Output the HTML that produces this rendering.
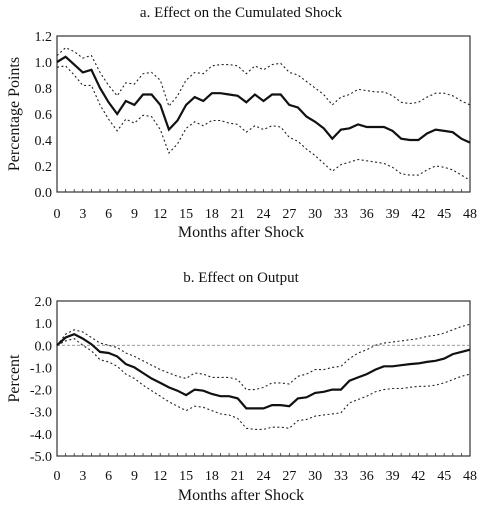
<!DOCTYPE html>
<html><head><meta charset="utf-8"><style>
body{margin:0;background:#fff;width:482px;height:516px;overflow:hidden}
svg text{font-family:"Liberation Serif",serif;fill:#111}
</style></head><body>
<svg id="c" width="482" height="516"></svg>
<script>
const months=[];for(let i=0;i<=48;i++)months.push(i);
const xTicks=[0,3,6,9,12,15,18,21,24,27,30,33,36,39,42,45,48];
const aTicks=[0.0,0.2,0.4,0.6,0.8,1.0,1.2];
const aMid=[1.00,1.04,0.98,0.92,0.94,0.80,0.69,0.60,0.70,0.67,0.75,0.75,0.67,0.48,0.55,0.67,0.73,0.70,0.76,0.76,0.75,0.74,0.69,0.75,0.70,0.75,0.75,0.67,0.65,0.58,0.54,0.49,0.41,0.48,0.49,0.52,0.50,0.50,0.50,0.47,0.41,0.40,0.40,0.45,0.48,0.47,0.46,0.41,0.38];
const aUp=[1.05,1.11,1.08,1.03,1.05,0.92,0.82,0.74,0.84,0.83,0.91,0.92,0.86,0.66,0.74,0.86,0.92,0.91,0.97,0.98,0.98,0.97,0.91,0.97,0.94,0.98,0.99,0.92,0.90,0.85,0.80,0.75,0.67,0.73,0.75,0.79,0.78,0.77,0.77,0.74,0.69,0.68,0.69,0.73,0.76,0.76,0.74,0.70,0.67];
const aLo=[0.96,0.97,0.90,0.82,0.82,0.67,0.56,0.47,0.56,0.53,0.59,0.58,0.48,0.30,0.37,0.49,0.54,0.51,0.55,0.55,0.53,0.52,0.46,0.51,0.48,0.51,0.50,0.42,0.39,0.33,0.28,0.22,0.16,0.21,0.23,0.25,0.24,0.23,0.22,0.19,0.14,0.13,0.13,0.17,0.20,0.19,0.17,0.13,0.09];
const bTicks=[-5,-4,-3,-2,-1,0,1,2];
const bMid=[0,0.35,0.5,0.3,0.05,-0.3,-0.35,-0.5,-0.85,-1.0,-1.25,-1.5,-1.7,-1.9,-2.05,-2.25,-2.0,-2.05,-2.2,-2.3,-2.3,-2.4,-2.85,-2.85,-2.85,-2.7,-2.7,-2.75,-2.4,-2.35,-2.15,-2.1,-2.0,-2.0,-1.6,-1.45,-1.3,-1.1,-0.95,-0.95,-0.9,-0.85,-0.82,-0.75,-0.7,-0.6,-0.4,-0.3,-0.2];
const bUp=[0,0.5,0.7,0.6,0.35,0.1,0.0,-0.1,-0.35,-0.5,-0.7,-0.9,-1.1,-1.25,-1.4,-1.5,-1.25,-1.3,-1.45,-1.45,-1.45,-1.55,-2.0,-2.0,-1.9,-1.7,-1.7,-1.75,-1.4,-1.3,-1.1,-1.1,-1.0,-0.95,-0.6,-0.35,-0.2,0.0,0.1,0.15,0.2,0.25,0.3,0.4,0.45,0.55,0.7,0.85,0.95];
const bLo=[0,0.2,0.3,0.0,-0.25,-0.65,-0.75,-0.95,-1.3,-1.5,-1.8,-2.05,-2.3,-2.55,-2.75,-2.95,-2.75,-2.8,-2.95,-3.1,-3.15,-3.3,-3.75,-3.8,-3.8,-3.7,-3.7,-3.75,-3.4,-3.35,-3.2,-3.15,-3.1,-3.05,-2.6,-2.45,-2.3,-2.1,-2.0,-1.95,-1.95,-1.9,-1.85,-1.85,-1.8,-1.7,-1.55,-1.4,-1.3];

const svg=document.getElementById('c');const NS='http://www.w3.org/2000/svg';
function mk(t,a,txt){const e=document.createElementNS(NS,t);for(const k in a)e.setAttribute(k,a[k]);if(txt!==undefined)e.textContent=txt;svg.appendChild(e);return e;}
function panel(p){
  const X0=57,X1=470;
  const x=m=>X0+(m-0)/48*(X1-X0);
  const y=v=>p.bot-(v-p.min)/(p.max-p.min)*(p.bot-p.top);
  let e=mk('rect',{x:X0,y:p.top,width:X1-X0,height:p.bot-p.top,fill:'none',stroke:'#333','stroke-width':1.2});
  
  
  e=mk('text',{x:241,y:p.titleY,'text-anchor':'middle','font-size':15},p.title);
  
  
  p.ticks.forEach(t=>{
    e=mk('text',{x:X0-5,y:y(t)+5,'text-anchor':'end','font-size':14},t.toFixed(1));
    
    
  });
  months.forEach(m=>{mk('line',{x1:x(m),x2:x(m),y1:p.bot,y2:p.bot-3,stroke:'#333','stroke-width':0.8});});
  xTicks.forEach(t=>{
    e=mk('text',{x:x(t),y:p.tickY,'text-anchor':'middle','font-size':14},String(t));
    
    
  });
  e=mk('text',{x:241,y:p.xtY,'text-anchor':'middle','font-size':16},'Months after Shock');
  
  
  const cy=(p.top+p.bot)/2;
  e=mk('text',{x:19,y:cy,'text-anchor':'middle','font-size':16,transform:`rotate(-90 19 ${cy})`},p.ylab);
  
  
  if(p.zero){e=mk('line',{x1:X0,x2:X1,y1:y(0),y2:y(0),stroke:'#777','stroke-width':0.7,'stroke-dasharray':'3,2'});
    
    }
  const pts=arr=>arr.map((v,i)=>x(months[i]).toFixed(1)+','+y(v).toFixed(1)).join(' ');
  e=mk('polyline',{points:pts(p.up),fill:'none',stroke:'#222','stroke-width':1.1,'stroke-dasharray':'2,2.5'});
  
  
  e=mk('polyline',{points:pts(p.lo),fill:'none',stroke:'#222','stroke-width':1.1,'stroke-dasharray':'2,2.5'});
  
  
  e=mk('polyline',{points:pts(p.mid),fill:'none',stroke:'#111','stroke-width':2.2});
  
  
}
panel({id:'panel-a',top:36,bot:192,min:0,max:1.2,ticks:aTicks,title:'a.  Effect on the Cumulated Shock',titleY:17,tickY:218,xtY:237,ylab:'Percentage Points',mid:aMid,up:aUp,lo:aLo,zero:false});
panel({id:'panel-b',top:301,bot:456,min:-5,max:2,ticks:bTicks,title:'b.  Effect on Output',titleY:282,tickY:480,xtY:500,ylab:'Percent',mid:bMid,up:bUp,lo:bLo,zero:true});
</script>
</body></html>
